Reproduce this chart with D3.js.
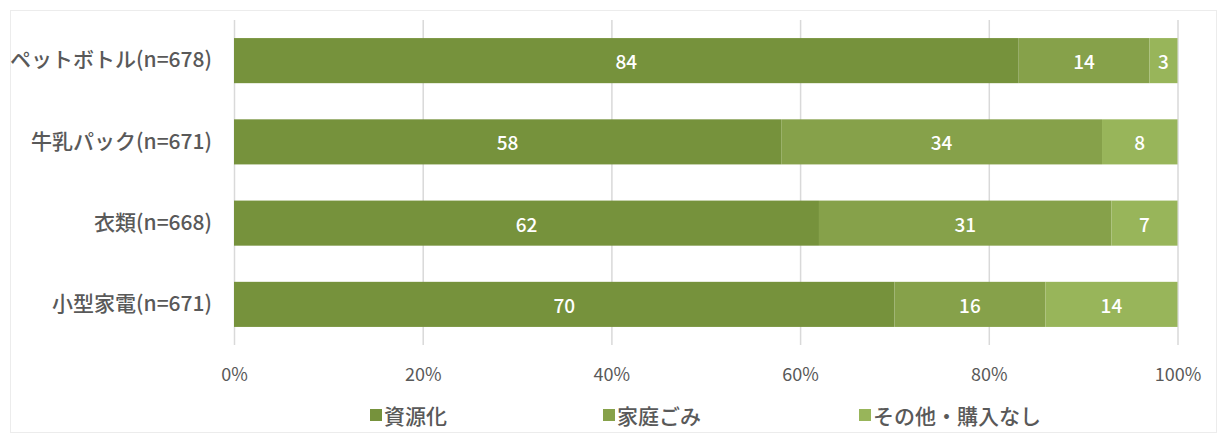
<!DOCTYPE html>
<html>
<head>
<meta charset="utf-8">
<script src="https://cdn.jsdelivr.net/npm/d3@7/dist/d3.min.js"></script>
<style>
  html, body { margin: 0; padding: 0; background: #fff; }
  svg { display: block; }
</style>
</head>
<body>
<svg id="chart" width="1219" height="435"></svg>
<script>
// Disposal method share by item (percent of respondents)
const categories = ["ペットボトル(n=678)", "牛乳パック(n=671)", "衣類(n=668)", "小型家電(n=671)"];
const seriesNames = ["資源化", "家庭ごみ", "その他・購入なし"];
const recycled = [84, 58, 62, 70];
const household = [14, 34, 31, 16];
const otherNone = [3, 8, 7, 14];
const tickLabels = ["0%", "20%", "40%", "60%", "80%", "100%"];
const tickValues = [0, 0.2, 0.4, 0.6, 0.8, 1.0];

const colors = ["#76923c", "#86a14a", "#98b55a"];
const labelColor = "#595959";
const cjk = "'Noto Sans CJK JP', 'Noto Sans', sans-serif";
const num = "'Noto Sans CJK JP', 'Noto Sans', sans-serif";

const rows = categories.map((c, i) => ({
  cat: c, "資源化": recycled[i], "家庭ごみ": household[i], "その他・購入なし": otherNone[i]
}));

const stack = d3.stack().keys(seriesNames).offset(d3.stackOffsetExpand);
const layers = stack(rows);

const svg = d3.select("#chart");

// chart frame
svg.append("rect")
  .attr("x", 10.5).attr("y", 10.5).attr("width", 1206).attr("height", 422)
  .attr("fill", "none").attr("stroke", "#ececec").attr("stroke-width", 1);

const plot = { left: 234, right: 1177.5, top: 20, bottom: 345 };

const x = d3.scaleLinear().domain([0, 1]).range([plot.left, plot.right]);
const y = d3.scaleBand().domain(categories).range([plot.top, plot.bottom]).paddingInner(0.445).paddingOuter(0.2225);

// vertical gridlines
const xAxis = d3.axisBottom(x).tickValues(tickValues)
  .tickFormat((d, i) => tickLabels[i])
  .tickSize(-(plot.bottom - plot.top)).tickPadding(20);

const gx = svg.append("g").attr("transform", `translate(0,${plot.bottom})`).call(xAxis);
gx.select(".domain").remove();
gx.selectAll(".tick line").attr("stroke", "#d9d9d9").attr("stroke-width", 1.5);
gx.selectAll(".tick text")
  .attr("fill", labelColor).attr("font-family", num).attr("font-size", 18)
  .attr("dy", "0.9em");

// category labels
const yAxis = d3.axisLeft(y).tickSize(0).tickPadding(22);
const gy = svg.append("g").attr("transform", `translate(${plot.left},0)`).call(yAxis);
gy.select(".domain").remove();
gy.selectAll(".tick text")
  .attr("fill", labelColor).attr("font-family", cjk).attr("font-size", 21).attr("font-weight", 500);

// stacked bars
const groups = svg.append("g").selectAll("g.layer").data(layers).join("g")
  .attr("class", "layer").attr("fill", (d, i) => colors[i]);

groups.selectAll("rect").data(d => d).join("rect")
  .attr("x", d => x(d[0]))
  .attr("y", d => y(d.data.cat))
  .attr("width", d => x(d[1]) - x(d[0]))
  .attr("height", y.bandwidth());

// value labels
groups.each(function(layer) {
  d3.select(this).selectAll("text").data(layer).join("text")
    .attr("x", d => (x(d[0]) + x(d[1])) / 2)
    .attr("y", d => y(d.data.cat) + y.bandwidth() / 2)
    .attr("text-anchor", "middle").attr("dominant-baseline", "central")
    .attr("fill", "#fff").attr("font-family", num).attr("font-size", 19).attr("font-weight", 500)
    .text(d => d.data[layer.key]);
});

// legend
const legendX = [370, 603, 859];
const legend = svg.append("g").selectAll("g").data(seriesNames).join("g")
  .attr("transform", (d, i) => `translate(${legendX[i]},415)`);
legend.append("rect").attr("x", 0).attr("y", -6).attr("width", 12).attr("height", 12)
  .attr("fill", (d, i) => colors[i]);
legend.append("text").attr("x", 14).attr("y", 0).attr("dominant-baseline", "central")
  .attr("fill", labelColor).attr("font-family", cjk).attr("font-size", 21).attr("font-weight", 500)
  .text(d => d);
</script>
</body>
</html>
